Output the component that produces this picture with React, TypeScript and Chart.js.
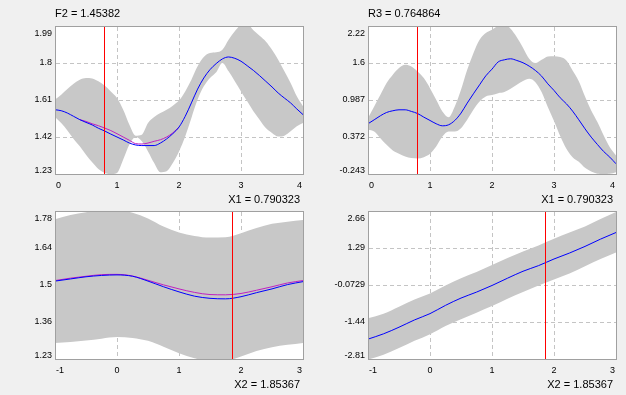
import React, { useEffect, useRef } from "react";
import { Chart, registerables } from "chart.js";

Chart.register(...registerables);

// ---------- data ----------
const X1_GRID = [0, 0.1, 0.2, 0.3, 0.4, 0.5, 0.6, 0.7, 0.8, 0.9, 1, 1.1, 1.2, 1.3, 1.4, 1.5, 1.6, 1.7, 1.8, 1.9, 2, 2.1, 2.2, 2.3, 2.4, 2.5, 2.6, 2.7, 2.8, 2.9, 3, 3.1, 3.2, 3.3, 3.4, 3.5, 3.6, 3.7, 3.8, 3.9, 4];

const F2_MEAN = [1.560, 1.555, 1.543, 1.526, 1.509, 1.495, 1.482, 1.465, 1.451, 1.435, 1.420, 1.405, 1.389, 1.379, 1.376, 1.376, 1.376, 1.389, 1.410, 1.437, 1.471, 1.526, 1.595, 1.666, 1.723, 1.766, 1.797, 1.821, 1.831, 1.824, 1.809, 1.786, 1.762, 1.735, 1.706, 1.677, 1.646, 1.620, 1.595, 1.564, 1.535];
const F2_ALT = [null, null, null, null, 1.509, 1.500, 1.488, 1.478, 1.466, 1.453, 1.437, 1.420, 1.403, 1.386, 1.384, 1.389, 1.398, 1.406, 1.420, 1.441, 1.471, null, null, null, null, null, null, null, null, null, null, null, null, null, null, null, null, null, null, null, null];
const F2_UPPER = [1.612, 1.637, 1.666, 1.694, 1.714, 1.723, 1.721, 1.706, 1.684, 1.654, 1.620, 1.560, 1.483, 1.427, 1.432, 1.492, 1.523, 1.543, 1.560, 1.581, 1.607, 1.654, 1.714, 1.783, 1.831, 1.851, 1.855, 1.868, 1.920, 1.963, 1.995, 2.0, 1.968, 1.940, 1.911, 1.868, 1.817, 1.757, 1.697, 1.629, 1.578];
const F2_LOWER = [1.523, 1.492, 1.454, 1.410, 1.372, 1.329, 1.290, 1.256, 1.235, 1.228, 1.235, 1.304, 1.381, 1.420, 1.398, 1.346, 1.286, 1.239, 1.244, 1.286, 1.346, 1.423, 1.518, 1.612, 1.680, 1.723, 1.752, 1.800, 1.757, 1.706, 1.654, 1.603, 1.552, 1.509, 1.466, 1.441, 1.423, 1.427, 1.449, 1.475, 1.492];

const R3_MEAN = [0.592, 0.658, 0.725, 0.780, 0.808, 0.824, 0.824, 0.797, 0.762, 0.702, 0.647, 0.592, 0.558, 0.575, 0.647, 0.769, 0.935, 1.090, 1.240, 1.389, 1.500, 1.620, 1.655, 1.672, 1.644, 1.606, 1.550, 1.478, 1.384, 1.256, 1.146, 1.024, 0.924, 0.802, 0.658, 0.508, 0.370, 0.248, 0.132, 0.037, -0.073];
const R3_UPPER = [0.686, 0.880, 1.074, 1.268, 1.406, 1.517, 1.572, 1.545, 1.461, 1.351, 1.184, 0.990, 0.797, 0.702, 0.880, 1.157, 1.489, 1.766, 1.988, 2.099, 2.154, 2.22, 2.26, 2.17, 2.03, 1.855, 1.672, 1.600, 1.655, 1.711, 1.716, 1.700, 1.644, 1.478, 1.300, 1.046, 0.813, 0.620, 0.400, 0.200, 0.065];
const R3_LOWER = [0.492, 0.464, 0.353, 0.242, 0.148, 0.093, 0.049, 0.021, 0.015, 0.037, 0.093, 0.215, 0.381, 0.464, 0.464, 0.519, 0.658, 0.824, 0.963, 1.046, 1.070, 1.100, 1.118, 1.173, 1.240, 1.301, 1.340, 1.284, 1.118, 0.869, 0.640, 0.390, 0.176, 0.037, -0.040, -0.140, -0.201, -0.240, -0.251, -0.240, -0.212];

const X2_GRID = [-1, -0.75, -0.5, -0.25, 0, 0.25, 0.5, 0.75, 1, 1.25, 1.5, 1.75, 2, 2.25, 2.5, 2.75, 3];

const F2B_MEAN = [1.517, 1.525, 1.533, 1.538, 1.540, 1.535, 1.517, 1.496, 1.477, 1.461, 1.453, 1.451, 1.459, 1.474, 1.488, 1.504, 1.515];
const F2B_ALT = [1.519, 1.528, 1.535, 1.541, 1.542, 1.536, 1.520, 1.503, 1.488, 1.475, 1.467, 1.466, 1.471, 1.483, 1.496, 1.510, 1.519];
const F2B_UPPER = [1.747, 1.763, 1.773, 1.781, 1.781, 1.771, 1.750, 1.720, 1.698, 1.685, 1.679, 1.680, 1.695, 1.714, 1.730, 1.738, 1.744];
const F2B_LOWER = [1.287, 1.291, 1.296, 1.303, 1.309, 1.306, 1.295, 1.273, 1.249, 1.230, 1.219, 1.220, 1.237, 1.257, 1.271, 1.280, 1.287];

const R3B_MEAN = [-2.076, -1.880, -1.635, -1.366, -1.133, -0.828, -0.558, -0.338, -0.093, 0.176, 0.433, 0.641, 0.886, 1.106, 1.351, 1.620, 1.865];
const R3B_UPPER = [-1.305, -1.134, -0.877, -0.607, -0.387, -0.093, 0.176, 0.408, 0.665, 0.922, 1.167, 1.387, 1.632, 1.865, 2.085, 2.366, 2.623];
const R3B_LOWER = [-2.834, -2.651, -2.406, -2.137, -1.892, -1.586, -1.342, -1.097, -0.852, -0.583, -0.338, -0.093, 0.127, 0.347, 0.616, 0.886, 1.130];

const X1_TICKS = [0, 1, 2, 3, 4];
const X1_TICK_LABELS = ["0", "1", "2", "3", "4"];
const X2_TICKS = [-1, 0, 1, 2, 3];
const X2_TICK_LABELS = ["-1", "0", "1", "2", "3"];

const F2_TICKS = [1.23, 1.42, 1.61, 1.8, 1.99];
const F2_TICK_LABELS = ["1.23", "1.42", "1.61", "1.8", "1.99"];
const R3_TICKS = [-0.243, 0.372, 0.987, 1.602, 2.217];
const R3_TICK_LABELS = ["-0.243", "0.372", "0.987", "1.6", "2.22"];
const F2B_TICKS = [1.2275, 1.365, 1.5025, 1.64, 1.7775];
const F2B_TICK_LABELS = ["1.23", "1.36", "1.5", "1.64", "1.78"];
const R3B_TICKS = [-2.81, -1.4425, -0.075, 1.2925, 2.66];
const R3B_TICK_LABELS = ["-2.81", "-1.44", "-0.0729", "1.29", "2.66"];

const X1_CURSOR = 0.790323;
const X2_CURSOR = 1.85367;
const X1_TITLE = "X1 = 0.790323";
const X2_TITLE = "X2 = 1.85367";
const F2_TITLE = "F2 = 1.45382";
const R3_TITLE = "R3 = 0.764864";

// ---------- styles ----------
const BAND = "#c8c8c8";
const BLUE = "#0000ff";
const MAGENTA = "#c020c0";
const GRID = "#c4c4c4";
const BORDER = "#a0a0a0";
const CURSOR = "#ff0000";
const TICK_FONT = '9px "Liberation Sans", Arial, sans-serif';
const TITLE_FONT = '11px "Liberation Sans", Arial, sans-serif';

type Spec = {
  xs: number[];
  mean: number[];
  alt?: (number | null)[];
  upper: number[];
  lower: number[];
  xTicks: number[];
  xTickLabels: string[];
  yTicks: number[];
  yTickLabels: string[];
  cursor: number;
  title?: string;
  xTitle: string;
};

function pts(xs: number[], ys: (number | null)[]) {
  return xs.map((x, i) => ({ x, y: ys[i] }));
}

function makeDecor(spec: Spec) {
  return {
    id: "decor",
    beforeDraw(chart: any) {
      const { ctx, chartArea } = chart;
      const { left, top, right, bottom } = chartArea;
      const xs = chart.scales.x;
      const ys = chart.scales.y;
      ctx.save();
      ctx.fillStyle = "#ffffff";
      ctx.fillRect(left, top, right - left + 1, bottom - top + 1);
      ctx.strokeStyle = GRID;
      ctx.lineWidth = 1;
      ctx.setLineDash([4, 3]);
      ctx.beginPath();
      spec.xTicks.slice(1, -1).forEach((v) => {
        const px = Math.round(xs.getPixelForValue(v)) + 0.5;
        ctx.moveTo(px, top + 1);
        ctx.lineTo(px, bottom);
      });
      spec.yTicks.slice(1, -1).forEach((v) => {
        const py = Math.round(ys.getPixelForValue(v)) + 0.5;
        ctx.moveTo(left + 1, py);
        ctx.lineTo(right, py);
      });
      ctx.stroke();
      ctx.restore();
    },
    afterDatasetsDraw(chart: any) {
      const { ctx, chartArea } = chart;
      const { left, top, right, bottom } = chartArea;
      const xs = chart.scales.x;
      ctx.save();
      ctx.lineWidth = 1;
      ctx.strokeStyle = CURSOR;
      const cx = Math.round(xs.getPixelForValue(spec.cursor)) + 0.5;
      ctx.beginPath();
      ctx.moveTo(cx, top);
      ctx.lineTo(cx, bottom);
      ctx.stroke();
      ctx.strokeStyle = BORDER;
      ctx.strokeRect(left + 0.5, top + 0.5, right - left, bottom - top);
      ctx.restore();
    },
    afterDraw(chart: any) {
      const { ctx, chartArea } = chart;
      const { left, top, right, bottom } = chartArea;
      const xs = chart.scales.x;
      const ys = chart.scales.y;
      ctx.save();
      ctx.fillStyle = "#000000";
      ctx.font = TICK_FONT;
      ctx.textBaseline = "middle";
      ctx.textAlign = "right";
      spec.yTicks.forEach((v, i) => {
        let py = ys.getPixelForValue(v);
        py = Math.max(top + 7.5, Math.min(bottom - 3.5, py));
        ctx.fillText(spec.yTickLabels[i], left - 3, py);
      });
      const n = spec.xTicks.length;
      spec.xTicks.forEach((v, i) => {
        let px = xs.getPixelForValue(v);
        if (i === 0) {
          ctx.textAlign = "left";
          px = left + 1;
        } else if (i === n - 1) {
          ctx.textAlign = "right";
          px = right - 1;
        } else {
          ctx.textAlign = "center";
        }
        ctx.fillText(spec.xTickLabels[i], px, bottom + 11.5);
      });
      ctx.font = TITLE_FONT;
      ctx.textBaseline = "alphabetic";
      ctx.textAlign = "right";
      ctx.fillText(spec.xTitle, right - 3, bottom + 29);
      if (spec.title) {
        ctx.textAlign = "left";
        ctx.fillText(spec.title, left, top - 9.5);
      }
      ctx.restore();
    },
  };
}

function Panel(props: {
  spec: Spec;
  left: number;
  top: number;
  width: number;
  height: number;
  padding: { left: number; top: number; right: number; bottom: number };
}) {
  const ref = useRef<HTMLCanvasElement | null>(null);
  const { spec, left, top, width, height, padding } = props;
  useEffect(() => {
    if (!ref.current) return;
    const datasets: any[] = [
      {
        label: "mean",
        data: pts(spec.xs, spec.mean),
        borderColor: BLUE,
        borderWidth: 1,
        pointRadius: 0,
        fill: false,
        cubicInterpolationMode: "monotone",
      },
    ];
    if (spec.alt) {
      datasets.push({
        label: "alt",
        data: pts(spec.xs, spec.alt),
        borderColor: MAGENTA,
        borderWidth: 1,
        pointRadius: 0,
        fill: false,
        spanGaps: false,
        cubicInterpolationMode: "monotone",
      });
    }
    datasets.push({
      label: "upper",
      data: pts(spec.xs, spec.upper),
      borderColor: "rgba(0,0,0,0)",
      borderWidth: 0,
      backgroundColor: BAND,
      pointRadius: 0,
      fill: "+1",
      cubicInterpolationMode: "monotone",
    });
    datasets.push({
      label: "lower",
      data: pts(spec.xs, spec.lower),
      borderColor: "rgba(0,0,0,0)",
      borderWidth: 0,
      pointRadius: 0,
      fill: false,
      cubicInterpolationMode: "monotone",
    });
    const chart = new Chart(ref.current, {
      type: "line",
      data: { datasets },
      options: {
        responsive: false,
        animation: false,
        devicePixelRatio: 1,
        events: [],
        layout: { padding },
        plugins: {
          legend: { display: false },
          tooltip: { enabled: false },
        },
        scales: {
          x: {
            type: "linear",
            display: false,
            min: spec.xTicks[0],
            max: spec.xTicks[spec.xTicks.length - 1],
          },
          y: {
            type: "linear",
            display: false,
            min: spec.yTicks[0],
            max: spec.yTicks[spec.yTicks.length - 1],
          },
        },
      } as any,
      plugins: [makeDecor(spec) as any],
    });
    return () => chart.destroy();
  }, []);
  return (
    <canvas
      ref={ref}
      width={width}
      height={height}
      style={{ position: "absolute", left, top, width, height }}
    />
  );
}

const TL: Spec = {
  xs: X1_GRID, mean: F2_MEAN, alt: F2_ALT, upper: F2_UPPER, lower: F2_LOWER,
  xTicks: X1_TICKS, xTickLabels: X1_TICK_LABELS, yTicks: F2_TICKS, yTickLabels: F2_TICK_LABELS,
  cursor: X1_CURSOR, title: F2_TITLE, xTitle: X1_TITLE,
};
const TR: Spec = {
  xs: X1_GRID, mean: R3_MEAN, upper: R3_UPPER, lower: R3_LOWER,
  xTicks: X1_TICKS, xTickLabels: X1_TICK_LABELS, yTicks: R3_TICKS, yTickLabels: R3_TICK_LABELS,
  cursor: X1_CURSOR, title: R3_TITLE, xTitle: X1_TITLE,
};
const BL: Spec = {
  xs: X2_GRID, mean: F2B_MEAN, alt: F2B_ALT, upper: F2B_UPPER, lower: F2B_LOWER,
  xTicks: X2_TICKS, xTickLabels: X2_TICK_LABELS, yTicks: F2B_TICKS, yTickLabels: F2B_TICK_LABELS,
  cursor: X2_CURSOR, xTitle: X2_TITLE,
};
const BR: Spec = {
  xs: X2_GRID, mean: R3B_MEAN, upper: R3B_UPPER, lower: R3B_LOWER,
  xTicks: X2_TICKS, xTickLabels: X2_TICK_LABELS, yTicks: R3B_TICKS, yTickLabels: R3B_TICK_LABELS,
  cursor: X2_CURSOR, xTitle: X2_TITLE,
};

export default function App() {
  const topPad = { left: 55, top: 26, right: 10, bottom: 215 - 174 };
  const botPad = { left: 55, top: 11, right: 10, bottom: 195 - 159 };
  return (
    <div
      style={{
        position: "fixed",
        left: 0,
        top: 0,
        width: 626,
        height: 395,
        background: "#f0f0f0",
        overflow: "hidden",
      }}
    >
      <Panel spec={TL} left={0} top={0} width={313} height={215} padding={topPad} />
      <Panel spec={TR} left={313} top={0} width={313} height={215} padding={topPad} />
      <Panel spec={BL} left={0} top={200} width={313} height={195} padding={botPad} />
      <Panel spec={BR} left={313} top={200} width={313} height={195} padding={botPad} />
    </div>
  );
}
